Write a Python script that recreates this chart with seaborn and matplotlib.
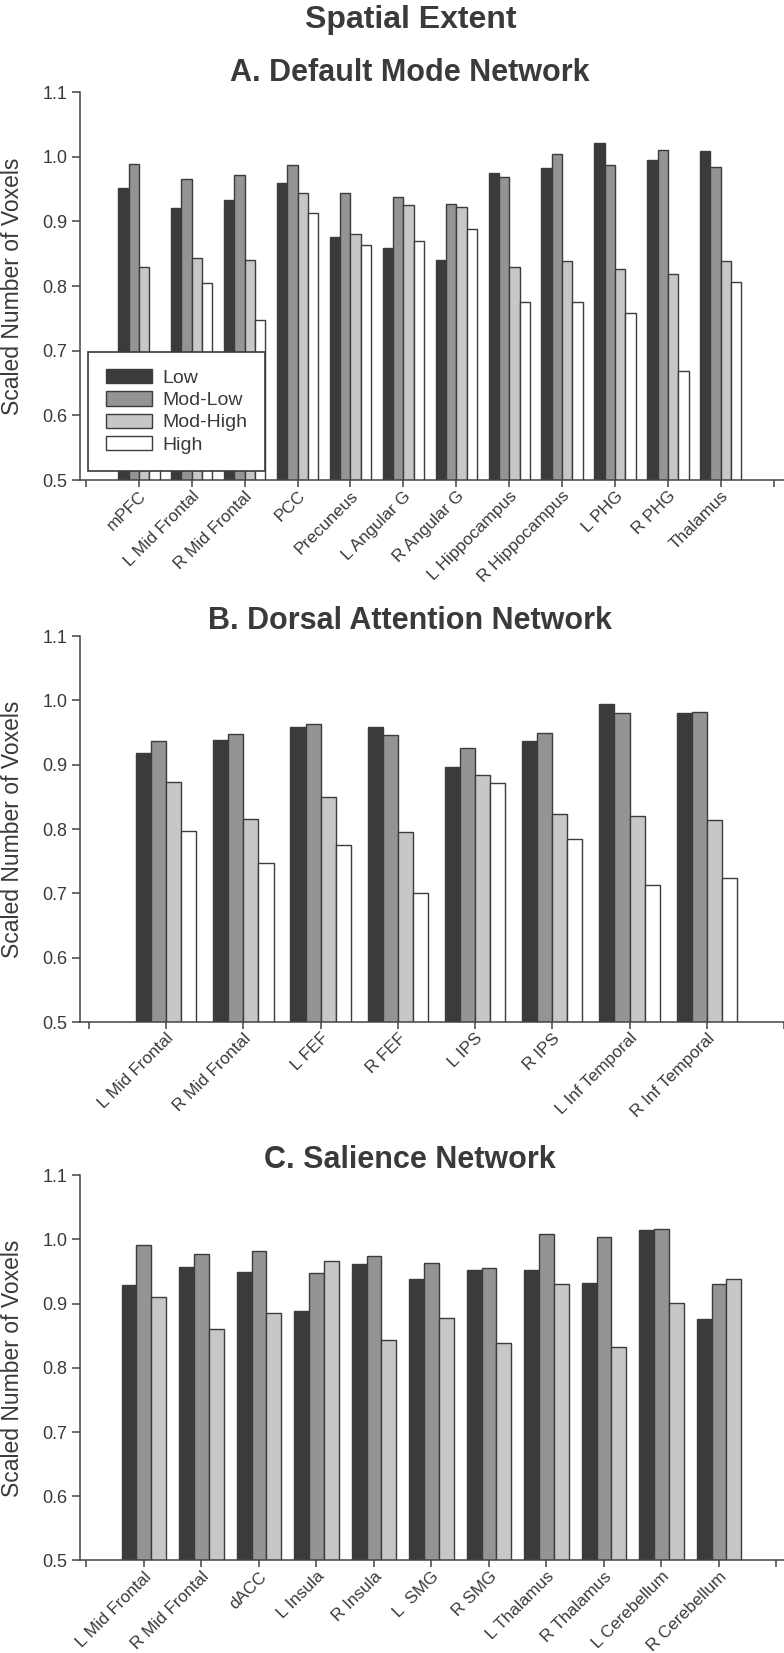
import numpy as np
import pandas as pd
import matplotlib
matplotlib.use("Agg")
import matplotlib.pyplot as plt
import seaborn as sns

levels = ["Low", "Mod-Low", "Mod-High", "High"]
level_colors = ["#3b3b3b", "#949494", "#c6c7c6", "#ffffff"]

# A. Default Mode Network
dmn_regions = ["mPFC", "L Mid Frontal", "R Mid Frontal", "PCC", "Precuneus",
               "L Angular G", "R Angular G", "L Hippocampus", "R Hippocampus",
               "L PHG", "R PHG", "Thalamus"]
dmn_low = [0.952, 0.920, 0.933, 0.960, 0.876, 0.859, 0.840, 0.975, 0.983, 1.021, 0.995, 1.009]
dmn_modlow = [0.989, 0.965, 0.972, 0.987, 0.944, 0.938, 0.927, 0.969, 1.004, 0.987, 1.010, 0.984]
dmn_modhigh = [0.829, 0.844, 0.840, 0.944, 0.881, 0.926, 0.922, 0.830, 0.839, 0.827, 0.818, 0.838]
dmn_high = [0.680, 0.804, 0.747, 0.913, 0.863, 0.870, 0.888, 0.776, 0.776, 0.758, 0.668, 0.806]

# B. Dorsal Attention Network
dan_regions = ["L Mid Frontal", "R Mid Frontal", "L FEF", "R FEF", "L IPS", "R IPS",
               "L Inf Temporal", "R Inf Temporal"]
dan_low = [0.918, 0.939, 0.958, 0.959, 0.897, 0.937, 0.995, 0.980]
dan_modlow = [0.937, 0.947, 0.964, 0.946, 0.926, 0.950, 0.981, 0.982]
dan_modhigh = [0.873, 0.816, 0.850, 0.796, 0.884, 0.824, 0.821, 0.814]
dan_high = [0.797, 0.747, 0.776, 0.701, 0.872, 0.785, 0.713, 0.724]

# C. Salience Network (no High group)
sal_regions = ["L Mid Frontal", "R Mid Frontal", "dACC", "L Insula", "R Insula", "L  SMG",
               "R SMG", "L Thalamus", "R Thalamus", "L Cerebellum", "R Cerebellum"]
sal_low = [0.929, 0.957, 0.950, 0.888, 0.962, 0.938, 0.953, 0.953, 0.932, 1.014, 0.876]
sal_modlow = [0.991, 0.977, 0.982, 0.948, 0.975, 0.964, 0.956, 1.009, 1.004, 1.016, 0.930]
sal_modhigh = [0.910, 0.861, 0.885, 0.967, 0.843, 0.878, 0.839, 0.930, 0.833, 0.901, 0.939]

sns.set_theme(style="ticks")
txt = "#3a3a3a"
plt.rcParams["font.family"] = ["Liberation Sans", "DejaVu Sans"]
plt.rcParams.update({
    "text.color": txt, "axes.labelcolor": txt, "axes.edgecolor": "#444444",
    "xtick.color": "#444444", "ytick.color": "#444444",
    "xtick.labelcolor": txt, "ytick.labelcolor": txt,
    "axes.linewidth": 1.1, "xtick.major.width": 1.1, "ytick.major.width": 1.1,
    "xtick.major.size": 5, "ytick.major.size": 6,
    "xtick.major.pad": 1.0, "ytick.major.pad": 3,
})


def draw_panel(ax, regions, series, names, title, pad, unit_px, first_px, legend=False):
    rows = []
    for name, vals in zip(names, series):
        for r, v in zip(regions, vals):
            rows.append({"region": r, "level": name, "value": v})
    df = pd.DataFrame(rows)
    pal = dict(zip(levels, level_colors))
    sns.barplot(data=df, x="region", y="value", hue="level", order=regions,
                hue_order=names, palette=pal, width=0.78, saturation=1,
                edgecolor="#3c3c3c", linewidth=1.0, errorbar=None,
                legend=legend, ax=ax)
    n = len(regions)
    ax.set_ylim(0.5, 1.1)
    ax.set_yticks([0.5, 0.6, 0.7, 0.8, 0.9, 1.0, 1.1])
    ax.set_yticklabels(["0.5", "0.6", "0.7", "0.8", "0.9", "1.0", "1.1"], fontsize=13)
    left = -1 - (first_px - 80) / unit_px
    ax.set_xlim(left, left + 704 / unit_px)
    ax.set_xticks(range(-1, n + 1))
    ax.set_xticklabels([""] + regions + [""], rotation=45, ha="right",
                       rotation_mode="anchor", fontsize=12.3)
    ax.set_xlabel("")
    ax.set_ylabel("Scaled Number of Voxels", fontsize=16.5)
    ax.yaxis.set_label_coords(-0.080, 0.5)
    ax.set_title(title, fontsize=22, fontweight="bold", pad=pad, color=txt, x=0.469)
    sns.despine(ax=ax)
    if legend:
        handles, labels = ax.get_legend_handles_labels()
        leg = ax.legend(handles, labels, loc="lower left", bbox_to_anchor=(0.012, 0.023),
                        frameon=True, fancybox=False, framealpha=1, fontsize=14,
                        handlelength=2.35, handleheight=0.75, labelspacing=0.22,
                        borderpad=0.9, handletextpad=0.55, borderaxespad=0)
        leg.get_frame().set_edgecolor("#3a3a3a")
        leg.get_frame().set_linewidth(1.2)
        leg.set_zorder(10)


fig = plt.figure(figsize=(7.84, 16.53), dpi=100)
ax_a = fig.add_axes([0.102, 0.7096, 0.898, 0.2347])
ax_b = fig.add_axes([0.102, 0.3817, 0.898, 0.2335])
ax_c = fig.add_axes([0.102, 0.0560, 0.898, 0.2330])

draw_panel(ax_a, dmn_regions, [dmn_low, dmn_modlow, dmn_modhigh, dmn_high], levels,
           "A. Default Mode Network", 8, 52.9, 86, legend=True)
draw_panel(ax_b, dan_regions, [dan_low, dan_modlow, dan_modhigh, dan_high], levels,
           "B. Dorsal Attention Network", 2.5, 77.6, 89)
draw_panel(ax_c, sal_regions, [sal_low, sal_modlow, sal_modhigh], levels[:3],
           "C. Salience Network", 3, 57.5, 86.5)

fig.text(0.524, 0.997, "Spatial Extent", ha="center", va="top", fontsize=23,
         fontweight="bold", color=txt)

fig.savefig("out.png", dpi=100)
